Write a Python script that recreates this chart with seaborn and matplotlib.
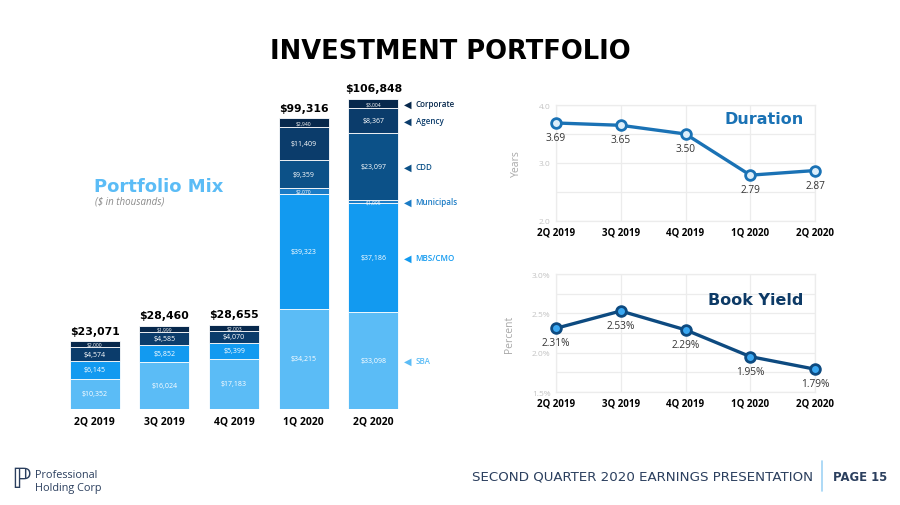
import numpy as np
import matplotlib
matplotlib.use("Agg")
import matplotlib.pyplot as plt
import matplotlib.transforms as mtransforms
from matplotlib.ticker import FixedLocator, FuncFormatter
import pandas as pd
import seaborn as sns

# --- data -------------------------------------------------------------
quarters = ["2Q 2019", "3Q 2019", "4Q 2019", "1Q 2020", "2Q 2020"]
series_names = ["SBA", "MBS/CMO", "Municipals", "CDD", "Agency", "Corporate"]
sba = [10352, 16024, 17183, 34215, 33098]
mbs_cmo = [6145, 5852, 5399, 39323, 37186]
municipals = [0, 0, 0, 2070, 1095]
cdd = [0, 0, 0, 9359, 23097]
agency = [4574, 4585, 4070, 11409, 8367]
corporate = [2000, 1999, 2003, 2940, 3004]
totals = ["$23,071", "$28,460", "$28,655", "$99,316", "$106,848"]

duration = [3.69, 3.65, 3.50, 2.79, 2.87]
book_yield = [2.31, 2.53, 2.29, 1.95, 1.79]

series_colors = ["#5bbcf6", "#129af0", "#1b7cc6", "#0c5188", "#0b3c6b", "#07284c"]
navy = "#2b3f5e"

sns.set_theme(style="white")
plt.rcParams["font.family"] = ["Open Sans", "DejaVu Sans"]

fig = plt.figure(figsize=(9, 5.06), dpi=100)
fig.patch.set_facecolor("white")

fig.text(0.5, 0.897, "INVESTMENT PORTFOLIO", ha="center", va="center",
         fontsize=18.5, fontweight="bold", color="black", family="DejaVu Sans")

# --- stacked bars -----------------------------------------------------
ax = fig.add_axes([0.0667, 0.1897, 0.3867, 0.642])
stack = [sba, mbs_cmo, municipals, cdd, agency, corporate]
x = np.arange(len(quarters))
bottom = np.zeros(len(quarters))
for name, vals, col in zip(series_names, stack, series_colors):
    vals = np.array(vals, dtype=float)
    ax.bar(x, vals, bottom=bottom, width=0.72, color=col,
           edgecolor="white", linewidth=0.6, label=name)
    for i, v in enumerate(vals):
        if v <= 0:
            continue
        fs = 3.6 if v < 3100 else 5
        ax.text(x[i], bottom[i] + v / 2, f"${int(v):,}", ha="center",
                va="center", fontsize=fs, color="white")
    bottom += vals

for i, t in enumerate(totals):
    ax.text(x[i], bottom[i] + 2000, t, ha="center", va="bottom",
            fontsize=7.8, fontweight="bold", color="black",
            family="DejaVu Sans")

ax.set_xlim(-0.5, 4.5)
ax.set_ylim(0, 111000)
ax.set_xticks(x)
ax.set_xticklabels(quarters, fontsize=7.5, fontweight="bold", color="black")
ax.tick_params(axis="x", length=0, pad=5)
ax.set_yticks([])
for s in ax.spines.values():
    s.set_visible(False)

# series labels next to the last bar
trans = mtransforms.blended_transform_factory(ax.transAxes, ax.transData)
last_bottom = 0.0
for name, vals, col in zip(series_names, stack, series_colors):
    v = vals[-1]
    yc = last_bottom + v / 2
    last_bottom += v
    ax.text(0.998, yc, "\u25c0", transform=trans, ha="center", va="center",
            fontsize=7, color=col, family="DejaVu Sans", clip_on=False)
    ax.text(1.022, yc, name, transform=trans, ha="left", va="center",
            fontsize=5.8, fontweight="semibold", color=col, clip_on=False)

fig.text(0.105, 0.631, "Portfolio Mix", fontsize=13, fontweight="bold",
         color="#5bbcf6", ha="left", va="center", family="DejaVu Sans")
fig.text(0.106, 0.600, "($ in thousands)", fontsize=7, style="italic",
         color="#8a8a8a", ha="left", va="center")


# --- line charts ------------------------------------------------------
def line_panel(rect, values, ylim, step, label_every, tickfmt, labfmt, ylabel,
               title, title_y, title_color, line_color, face, edge):
    a = fig.add_axes(rect)
    df = pd.DataFrame({"q": np.arange(len(quarters)), "v": values})
    sns.lineplot(data=df, x="q", y="v", ax=a, color=line_color, linewidth=2.4,
                 marker="o", markersize=7, markerfacecolor=face,
                 markeredgecolor=edge, markeredgewidth=2, clip_on=False,
                 zorder=5)
    a.set_xlim(0, 4)
    a.set_ylim(*ylim)
    ticks = np.arange(ylim[0], ylim[1] + step / 2, step)
    a.yaxis.set_major_locator(FixedLocator(ticks))

    def yfmt(v, p):
        k = (v - ylim[0]) / label_every
        return tickfmt.format(v) if abs(k - round(k)) < 1e-6 else ""
    a.yaxis.set_major_formatter(FuncFormatter(yfmt))
    a.set_xticks(range(len(quarters)))
    a.set_xticklabels(quarters, fontsize=7, fontweight="bold", color="black")
    a.tick_params(axis="both", length=0)
    a.tick_params(axis="y", labelsize=6, labelcolor="#c4c4c4", pad=4)
    a.tick_params(axis="x", pad=4)
    a.grid(True, color="#ececec", linewidth=0.9)
    for s in a.spines.values():
        s.set_color("#ececec")
        s.set_linewidth(0.9)
    a.set_xlabel("")
    a.set_ylabel(ylabel, fontsize=7.5, color="#a8a8a8", labelpad=12)
    for i, v in enumerate(values):
        a.annotate(labfmt.format(v), (i, v), xytext=(0, -6.5),
                   textcoords="offset points", ha="center", va="top",
                   fontsize=7.3, color="#333333", zorder=6)
    a.text(0.955, title_y, title, transform=a.transAxes, ha="right",
           va="center", fontsize=11.5, fontweight="bold", color=title_color,
           family="DejaVu Sans")
    return a


line_panel([0.6178, 0.5613, 0.2878, 0.2292], duration, (2.0, 4.0), 0.5, 1.0,
           "{:.1f}", "{:.2f}", "Years", "Duration", 0.88, "#1a72b5",
           "#1a72b5", "#dceefa", "#1a72b5")
line_panel([0.6178, 0.2233, 0.2878, 0.2332], book_yield, (1.5, 3.0), 0.25,
           0.5, "{:.1f}%", "{:.2f}%", "Percent", "Book Yield", 0.78,
           "#0d3a66", "#0d4a80", "#3aa8f2", "#0d4a80")

# --- footer -----------------------------------------------------------
fig.text(0.013, 0.052, "\u2119", fontsize=20, color=navy,
         family="DejaVu Sans", ha="left", va="center")
fig.text(0.039, 0.061, "Professional", fontsize=7.8, color=navy,
         ha="left", va="center")
fig.text(0.039, 0.034, "Holding Corp", fontsize=7.8, color=navy,
         ha="left", va="center")
fig.text(0.903, 0.057, "SECOND QUARTER 2020 EARNINGS PRESENTATION",
         fontsize=9.6, color=navy, ha="right", va="center",
         family="DejaVu Sans")
fig.add_artist(plt.Line2D([0.913, 0.913], [0.027, 0.087], color="#9fd3f5",
                          linewidth=1.2, transform=fig.transFigure))
fig.text(0.926, 0.057, "PAGE 15", fontsize=8.4, fontweight="bold",
         color=navy, ha="left", va="center", family="DejaVu Sans")

fig.savefig("out.png", dpi=100, facecolor="white")
